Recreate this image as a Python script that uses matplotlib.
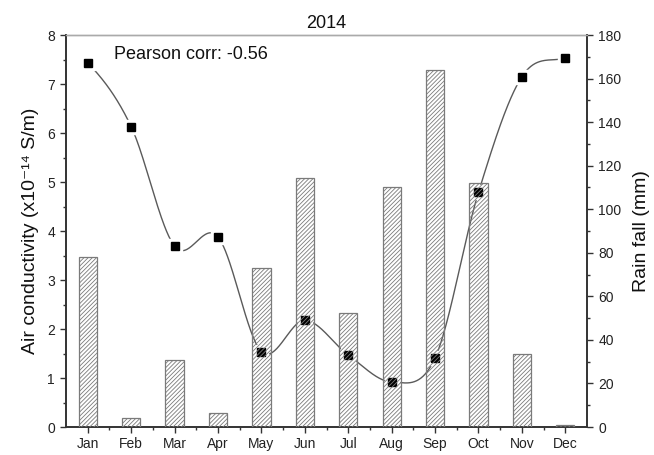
import numpy as np
import matplotlib
matplotlib.use('Agg')
import matplotlib.pyplot as plt
from matplotlib.ticker import MultipleLocator, FixedLocator

months = ['Jan', 'Feb', 'Mar', 'Apr', 'May', 'Jun', 'Jul', 'Aug', 'Sep', 'Oct', 'Nov', 'Dec']
conductivity = [7.43, 6.13, 3.69, 3.88, 1.54, 2.18, 1.47, 0.92, 1.41, 4.79, 7.15, 7.53]
rainfall = [78, 4, 31, 6.5, 73, 114.5, 52.5, 110, 164, 112, 33.5, 1]
title = '2014'
corr_text = 'Pearson corr: -0.56'

plt.rcParams['font.family'] = ['Liberation Sans', 'DejaVu Sans']
plt.rcParams['hatch.linewidth'] = 0.6
plt.rcParams['hatch.color'] = '#777777'


def catmull_rom(x, y, per_seg=60):
    x = np.asarray(x, float)
    y = np.asarray(y, float)
    n = len(x)
    m = np.zeros(n)
    m[1:-1] = (y[2:] - y[:-2]) / (x[2:] - x[:-2])
    m[0] = (y[1] - y[0]) / (x[1] - x[0]) * 0.7
    m[-1] = (y[-1] - y[-2]) / (x[-1] - x[-2]) * 0.7
    xs_all, ys_all = [], []
    for i in range(n - 1):
        h = x[i + 1] - x[i]
        t = np.linspace(0, 1, per_seg)
        h00 = 2 * t ** 3 - 3 * t ** 2 + 1
        h10 = t ** 3 - 2 * t ** 2 + t
        h01 = -2 * t ** 3 + 3 * t ** 2
        h11 = t ** 3 - t ** 2
        xs_all.append(x[i] + t * h)
        ys_all.append(h00 * y[i] + h10 * h * m[i] + h01 * y[i + 1] + h11 * h * m[i + 1])
    return np.concatenate(xs_all), np.concatenate(ys_all)


xpos = np.arange(1, len(months) + 1)

fig = plt.figure(figsize=(6.54, 4.55), dpi=100)
ax = fig.add_axes([0.101, 0.0615, 0.7966, 0.8615])
ax2 = ax.twinx()

xs, ys = catmull_rom(xpos, conductivity)
ax.plot(xs, ys, color='#5a5a5a', lw=1.0, zorder=2)
ax.plot(xpos, conductivity, 's', ms=10, color='white', mec='white', zorder=3)
ax.plot(xpos, conductivity, 's', ms=5.5, color='black', mec='black', zorder=4)

ax2.bar(xpos, rainfall, width=0.42, facecolor='none', edgecolor='#7a7a7a',
        hatch='////////', linewidth=0.9, zorder=5)

ax.set_xlim(0.5, 12.5)
ax.set_ylim(0, 8)
ax2.set_ylim(0, 180)

ax.set_xticks(xpos)
ax.set_xticklabels(months)
ax.xaxis.set_minor_locator(FixedLocator(xpos[:-1] + 0.5))
ax.yaxis.set_major_locator(MultipleLocator(1))
ax.yaxis.set_minor_locator(MultipleLocator(0.5))
ax2.yaxis.set_major_locator(MultipleLocator(20))
ax2.yaxis.set_minor_locator(MultipleLocator(10))

for a in (ax, ax2):
    a.tick_params(which='major', direction='out', length=4.5, width=1, color='#333333',
                  labelsize=10, labelcolor='#222222')
    a.tick_params(which='minor', direction='out', length=2.5, width=1, color='#333333')
    for s in ('left', 'right', 'bottom'):
        a.spines[s].set_color('#333333')
        a.spines[s].set_linewidth(1.2)
    a.spines['top'].set_color('#aaaaaa')
    a.spines['top'].set_linewidth(1.0)
ax.tick_params(axis='x', which='major', pad=3)

ax.set_ylabel('Air conductivity (x10\u207b\u00b9\u2074 S/m)', fontsize=14, color='#111111', labelpad=6)
ax2.set_ylabel('Rain fall (mm)', fontsize=14, color='#111111', labelpad=8)
ax.set_title(title, fontsize=13, color='#111111', pad=5)
ax.text(1.6, 7.6, corr_text, fontsize=13, color='#111111', va='center', ha='left')

fig.savefig('out.png', dpi=100)
